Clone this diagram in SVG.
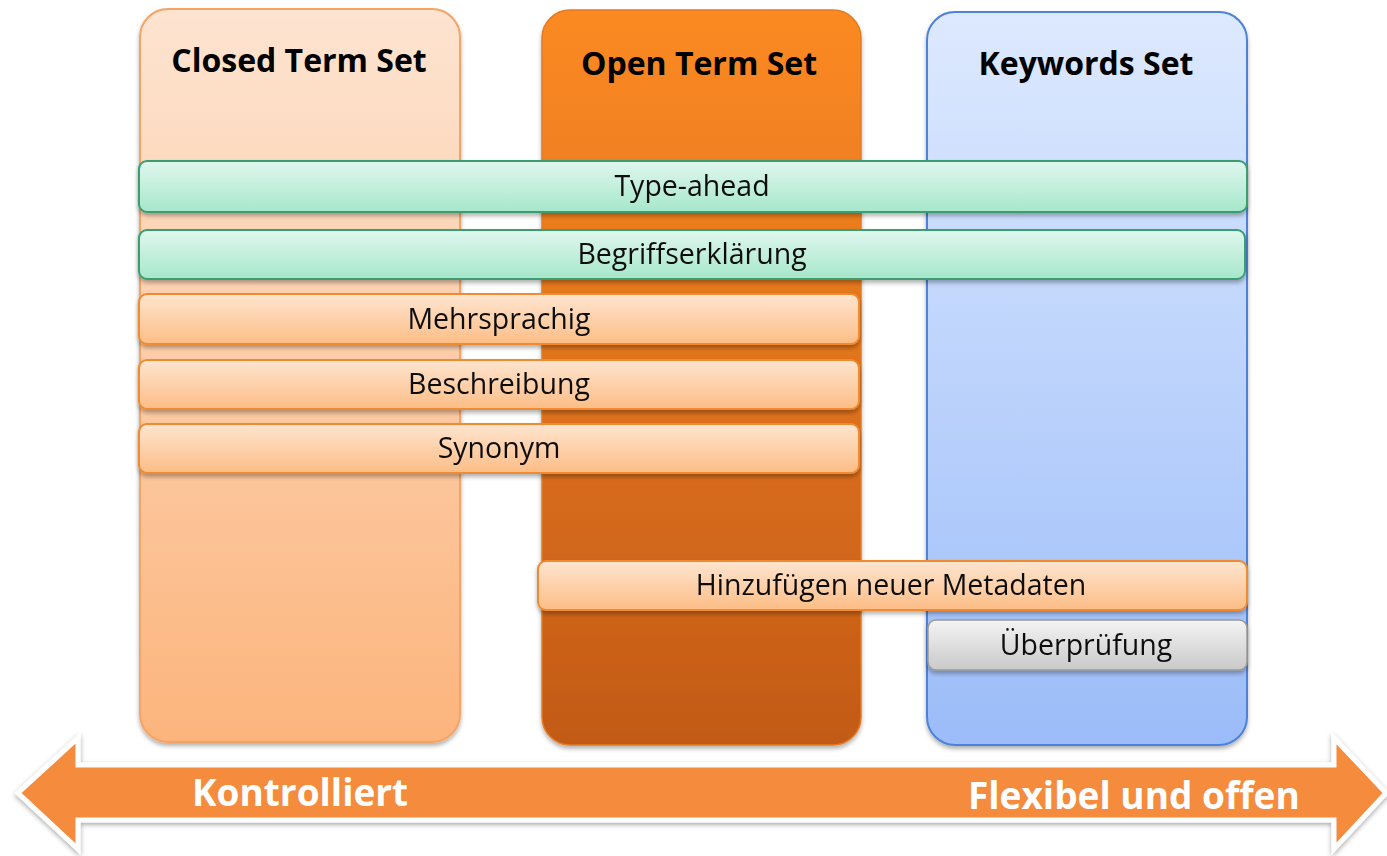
<svg xmlns="http://www.w3.org/2000/svg" width="1387" height="856" viewBox="0 0 1387 856">
<defs>
<linearGradient id="gClosed" x1="0" y1="0" x2="0" y2="1"><stop offset="0" stop-color="#fde4d1"/><stop offset="1" stop-color="#fcb47c"/></linearGradient>
<linearGradient id="gOpen" x1="0" y1="0" x2="0" y2="1"><stop offset="0" stop-color="#fc8a22"/><stop offset="1" stop-color="#c25a17"/></linearGradient>
<linearGradient id="gKey" x1="0" y1="0" x2="0" y2="1"><stop offset="0" stop-color="#dde9fe"/><stop offset="1" stop-color="#9bbcf9"/></linearGradient>
<linearGradient id="gGreen" x1="0" y1="0" x2="0" y2="1"><stop offset="0" stop-color="#e0f7ee"/><stop offset="1" stop-color="#a6e7cb"/></linearGradient>
<linearGradient id="gOrange" x1="0" y1="0" x2="0" y2="1"><stop offset="0" stop-color="#fee5d0"/><stop offset="1" stop-color="#fdbd86"/></linearGradient>
<linearGradient id="gGray" x1="0" y1="0" x2="0" y2="1"><stop offset="0" stop-color="#f4f4f4"/><stop offset="1" stop-color="#c9c9c9"/></linearGradient>
<filter id="sh" x="-5%" y="-20%" width="110%" height="150%"><feDropShadow dx="0" dy="3" stdDeviation="2" flood-color="#000" flood-opacity="0.3"/></filter>
<filter id="ash" x="-5%" y="-20%" width="110%" height="150%"><feDropShadow dx="0" dy="2" stdDeviation="2.5" flood-color="#000" flood-opacity="0.35"/></filter>
</defs>
<style>
.head{font-family:"Open Sans","Noto Sans",sans-serif;font-weight:bold;font-size:32px;fill:#000;text-anchor:middle}
.lbl{font-family:"Open Sans","Noto Sans",sans-serif;font-size:28.5px;fill:#111;text-anchor:middle}
.arr{font-family:"Open Sans","Noto Sans",sans-serif;font-weight:bold;font-size:37px;fill:#fff}
.bar{filter:url(#sh)}
</style>
<rect width="1387" height="856" fill="#fff"/>
<g id="col-closed">
<rect x="140" y="9" width="320" height="733" rx="28" fill="url(#gClosed)" stroke="#f4a465" stroke-width="2" filter="url(#sh)"/>
<text class="head" x="299" y="72">Closed Term Set</text>
</g>
<g id="col-open">
<rect x="542" y="10" width="319" height="735" rx="28" fill="url(#gOpen)" stroke="#e57a20" stroke-width="1.5" filter="url(#sh)"/>
<text class="head" x="699" y="75">Open Term Set</text>
</g>
<g id="col-keywords">
<rect x="927" y="12" width="320" height="733" rx="28" fill="url(#gKey)" stroke="#4d82d8" stroke-width="2" filter="url(#sh)"/>
<text class="head" x="1086" y="75">Keywords Set</text>
</g>
<g id="bar-typeahead" class="bar">
<rect x="139" y="161" width="1108" height="51" rx="8" fill="url(#gGreen)" stroke="#3a9d70" stroke-width="2"/>
<text class="lbl" x="692" y="196">Type-ahead</text>
</g>
<g id="bar-begriff" class="bar">
<rect x="139" y="230" width="1106" height="49" rx="8" fill="url(#gGreen)" stroke="#3a9d70" stroke-width="2"/>
<text class="lbl" x="692" y="264">Begriffserklärung</text>
</g>
<g id="bar-mehr" class="bar">
<rect x="139" y="294" width="720" height="50" rx="8" fill="url(#gOrange)" stroke="#f08b30" stroke-width="2"/>
<text class="lbl" x="499" y="329">Mehrsprachig</text>
</g>
<g id="bar-beschr" class="bar">
<rect x="139" y="360" width="720" height="49" rx="8" fill="url(#gOrange)" stroke="#f08b30" stroke-width="2"/>
<text class="lbl" x="499" y="394">Beschreibung</text>
</g>
<g id="bar-synonym" class="bar">
<rect x="139" y="424" width="720" height="49" rx="8" fill="url(#gOrange)" stroke="#f08b30" stroke-width="2"/>
<text class="lbl" x="499" y="458">Synonym</text>
</g>
<g id="bar-hinzu" class="bar">
<rect x="538" y="561" width="709" height="49" rx="8" fill="url(#gOrange)" stroke="#f08b30" stroke-width="2"/>
<text class="lbl" x="891" y="595">Hinzufügen neuer Metadaten</text>
</g>
<g id="bar-ueber" class="bar">
<rect x="928" y="620" width="319" height="50" rx="8" fill="url(#gGray)" stroke="#9a9a9a" stroke-width="1.5"/>
<text class="lbl" x="1086" y="655">Überprüfung</text>
</g>
<g id="arrow">
<path d="M18,793 L78,738 L78,765 L1334,765 L1334,738 L1386,793 L1334,849 L1334,820 L78,820 L78,849 Z" fill="#f48b3c" stroke="#fff" stroke-width="5" stroke-linejoin="miter" filter="url(#ash)"/>
<text class="arr" x="192" y="806">Kontrolliert</text>
<text class="arr" x="968" y="809">Flexibel und offen</text>
</g>
</svg>
